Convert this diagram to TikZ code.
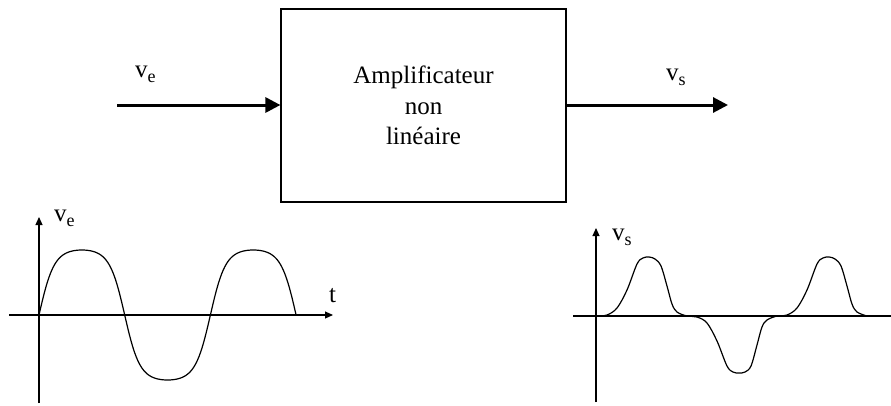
\documentclass[tikz,border=0pt]{standalone}
\usepackage{fontspec}
\setmainfont{Liberation Serif}
\usetikzlibrary{arrows.meta}
\newcommand{\mysub}[1]{\raisebox{-5pt}{\fontsize{18}{18}\selectfont #1}}
\begin{document}
\begin{tikzpicture}[x=1pt,y=-1pt,
  bigarrow/.style={line width=3pt,-{Triangle[length=15pt,width=15pt]}},
  axis/.style={line width=1.1pt},
  axisarrow/.style={line width=1.1pt,-{Triangle[length=8pt,width=7pt]}},
  curve/.style={line width=1.2pt,line join=round},
  lbl/.style={inner sep=0pt,anchor=base west,font=\fontsize{25}{30}\selectfont},
  blockbox/.style={draw,line width=1.2pt,minimum width=285pt,minimum height=193pt,align=center,font=\fontsize{25}{30.5}\selectfont}]
\useasboundingbox (0,0) rectangle (891,405);
% block diagram
\node[blockbox] (amp) at (423.5,105.5) {Amplificateur\\non\\lin\'eaire};
\coordinate (in) at (117,105);
\coordinate (out) at (728,105);
\draw[bigarrow] (in) -- (amp.west |- in);
\draw[bigarrow] (amp.east |- out) -- (out);
\node[lbl] (lve) at (135,77) {v\mysub{e}};
\node[lbl] (lvs) at (666,80) {v\mysub{s}};
% left graph
\coordinate (lx0) at (9,315);
\coordinate (lx1) at (333,315);
\coordinate (ly0) at (39,403);
\coordinate (ly1) at (39,217);
\draw[axisarrow] (lx0) -- (lx1);
\draw[axisarrow] (ly0) -- (ly1);
\node[lbl] (gve) at (54,221) {v\mysub{e}};
\node[lbl] (gt) at (329,302) {t};
\draw[curve] plot[domain=0:540,samples=181,smooth] ({39+\x/180*85.7},{315-65*tanh(1.7*sin(\x))/0.9354});
% right graph
\coordinate (rx0) at (573,316);
\coordinate (rx1) at (891,316);
\coordinate (ry0) at (596,402);
\coordinate (ry1) at (596,228);
\draw[axis] (rx0) -- (rx1);
\draw[axisarrow] (ry0) -- (ry1);
\node[lbl] (gvs) at (612,240) {v\mysub{s}};
\draw[curve] plot[smooth,tension=0.55] coordinates {
 (597,316) (607,315) (617,308) (627,290) (637,264) (643,258) (649,257) (655,259) (661,266) (667,286) (672,304) (677,312) (687,316)
 (697,317) (707,323) (717,341) (727,366) (733,372) (739,373) (745,372) (751,366) (757,345) (762,327) (767,320) (777,316)
 (787,315) (797,308) (807,290) (817,264) (823,258) (829,257) (835,259) (841,266) (847,286) (852,304) (857,312) (867,316)};
\end{tikzpicture}
\end{document}
